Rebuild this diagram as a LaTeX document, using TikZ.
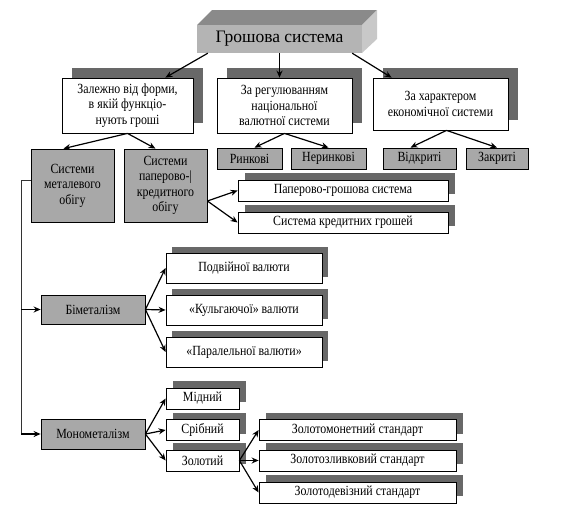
\documentclass[tikz,border=0pt]{standalone}
\usepackage{fontspec}
\setmainfont{Liberation Serif}[FakeStretch=0.85]
\newfontfamily\titlefont{Liberation Serif}
\usetikzlibrary{arrows.meta,shadows}
\definecolor{shd}{HTML}{686868}
\definecolor{gfill}{HTML}{A8A8A8}
\definecolor{topface}{HTML}{8A8A8A}
\definecolor{frontface}{HTML}{B4B4B4}
\definecolor{sideface}{HTML}{C8C8C8}
\begin{document}
\begin{tikzpicture}[x=1pt,y=-1pt,
  base/.style={draw, line width=0.8pt, inner sep=0pt, align=center, font=\fontsize{14}{15.5}\selectfont},
  wbox/.style={base, fill=white},
  gbox/.style={base, fill=gfill},
  sh/.style={general shadow={fill=shd, shadow xshift=#1, shadow yshift=#1}},
  arr/.style={-{Stealth[length=7pt,width=6pt]}, line width=1.2pt},
  thinline/.style={line width=0.8pt, draw=black!80}]
\useasboundingbox (0,0) rectangle (563,522);
% top 3D box
\fill[topface] (197,25) -- (212,10) -- (377,10) -- (362,25) -- cycle;
\fill[sideface] (362,25) -- (377,10) -- (377,39) -- (362,53) -- cycle;
\node[fill=frontface, inner sep=0pt, minimum width=165pt, minimum height=28pt, font=\titlefont\fontsize{17.5}{19}\selectfont] (top) at (279.5,39) {Грошова система};
% row 1
\node[wbox, sh=10pt, minimum width=131pt, minimum height=55pt] (f1) at (127.5,105.5) {Залежно від форми,\\в якій функціо-\\нують гроші};
\node[wbox, sh=10pt, minimum width=135pt, minimum height=55pt] (f2) at (284.5,105.5) {За регулюванням\\національної\\валютної системи};
\node[wbox, sh=10pt, minimum width=135pt, minimum height=52pt] (f3) at (440.5,104) {За характером\\економічної системи};
% row 2
\node[gbox, minimum width=83pt, minimum height=73pt] (m1) at (72.5,185.5) {Системи\\металевого\\обігу};
\node[gbox, minimum width=83pt, minimum height=73pt] (m2) at (165.5,185.5) {Системи\\паперово-|\\кредитного\\обігу};
\node[gbox, minimum width=65pt, minimum height=21pt] (r1) at (249.5,158.5) {Ринкові};
\node[gbox, minimum width=75pt, minimum height=21pt] (r2) at (328.5,158.5) {Неринкові};
\node[gbox, minimum width=73pt, minimum height=21pt] (r3) at (419.5,158.5) {Відкриті};
\node[gbox, minimum width=62pt, minimum height=21pt] (r4) at (497,158.5) {Закриті};
% paper
\node[wbox, sh=7pt, minimum width=210pt, minimum height=21pt] (p1) at (343,190.5) {Паперово-грошова система};
\node[wbox, sh=7pt, minimum width=210pt, minimum height=21pt] (p2) at (343,222.5) {Система кредитних грошей};
% bimetal
\node[gbox, minimum width=104pt, minimum height=29pt] (bim) at (93,309.5) {Біметалізм};
\node[wbox, sh=6pt, minimum width=156pt, minimum height=30pt] (b1) at (244,268) {Подвійної валюти};
\node[wbox, sh=6pt, minimum width=156pt, minimum height=30pt] (b2) at (244,310) {«Кульгаючої» валюти};
\node[wbox, sh=6pt, minimum width=156pt, minimum height=30pt] (b3) at (244,352) {«Паралельної валюти»};
% monometal
\node[gbox, minimum width=104pt, minimum height=30pt] (mono) at (93,434) {Монометалізм};
\node[wbox, sh=7pt, minimum width=73pt, minimum height=21pt] (c1) at (202.5,398.5) {Мідний};
\node[wbox, sh=7pt, minimum width=73pt, minimum height=21pt] (c2) at (202.5,430) {Срібний};
\node[wbox, sh=7pt, minimum width=73pt, minimum height=21pt] (c3) at (202.5,460.5) {Золотий};
\node[wbox, sh=7pt, minimum width=197pt, minimum height=21pt] (g1) at (357.5,430) {Золотомонетний стандарт};
\node[wbox, sh=7pt, minimum width=197pt, minimum height=21pt] (g2) at (357.5,460.5) {Золотозливковий стандарт};
\node[wbox, sh=7pt, minimum width=197pt, minimum height=21pt] (g3) at (357.5,492.5) {Золотодевізний стандарт};
% connectors from top
\draw[arr] ([xshift=11pt]top.south west) -- ([xshift=-28pt]f1.north east);
\draw[arr] (top.south) -- (top.south |- f2.north);
\draw[arr] ([xshift=-10pt]top.south east) -- ([xshift=19pt]f3.north west);
% row1 -> row2
\draw[arr] (f1.south) -- ([xshift=-9pt]m1.north);
\draw[arr] (f1.south) -- ([xshift=-10pt]m2.north);
\draw[arr] (f2.south) -- ([xshift=5pt]r1.north);
\draw[arr] (f2.south) -- (r2.north);
\draw[arr] ([xshift=6pt]f3.south) -- ([xshift=-9pt]r3.north);
\draw[arr] ([xshift=6pt]f3.south) -- (r4.north);
% paper-credit
\draw[arr] ([yshift=-15.5pt]m2.east) -- (p1.west);
\draw[arr] ([yshift=-15.5pt]m2.east) -- (p2.west);
% left trunk
\coordinate (l1) at (21,180.5);
\coordinate (l3) at (21,434);
\draw[thinline] ([yshift=5pt]m1.west) -- (l1) -- (l3);
\draw[arr] (bim.west -| l1) -- (bim.west);
\draw[arr] (l3) -- (mono.west);
% bimetal children
\draw[arr] (bim.east) -- (b1.west);
\draw[arr] (bim.east) -- (b2.west);
\draw[arr] (bim.east) -- (b3.west);
% mono children
\draw[arr] (mono.east) -- (c1.west);
\draw[arr] (mono.east) -- (c2.west);
\draw[arr] (mono.east) -- (c3.west);
% gold
\draw[arr] (c3.east) -- (g1.west);
\draw[arr] (c3.east) -- (g2.west);
\draw[arr] (c3.east) -- (g3.west);
\end{tikzpicture}
\end{document}
